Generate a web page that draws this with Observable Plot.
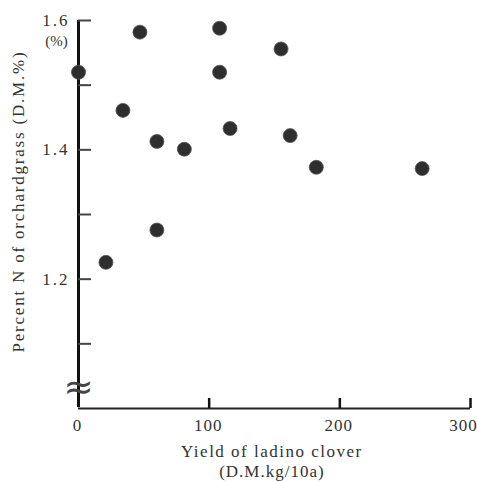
<!DOCTYPE html>
<html>
<head>
<meta charset="utf-8">
<script src="https://cdn.jsdelivr.net/npm/d3@7"></script>
<script src="https://cdn.jsdelivr.net/npm/@observablehq/plot@0.6"></script>
<style>
  html, body { margin: 0; padding: 0; background: #fff; }
  #chart svg { display: block; overflow: visible; }
</style>
</head>
<body>
<div id="chart"></div>
<script>
// Data
const yieldClover = [0, 21, 34, 47, 60, 60, 81, 108, 108, 116, 155, 162, 182, 263];
const percentN    = [1.52, 1.226, 1.461, 1.582, 1.413, 1.276, 1.401, 1.588, 1.52, 1.433, 1.556, 1.422, 1.373, 1.371];

const xTicks = [0, 100, 200, 300];
const xTickLabels = ["0", "100", "200", "300"];
const yTicks = [1.1, 1.2, 1.3, 1.4, 1.5, 1.6];
const yLabeled = [1.2, 1.4, 1.6];
const yTickLabels = ["1.2", "1.4", "1.6"];

const xTitle1 = "Yield of ladino clover";
const xTitle2 = "(D.M.kg/10a)";
const yTitle = "Percent N of orchardgrass (D.M.%)";
const yUnit = "(%)";

const points = yieldClover.map((x, i) => ({x, y: percentN[i]}));
const xLabelData = xTicks.map((x, i) => ({x, label: xTickLabels[i]}));
const serif = "Liberation Serif, DejaVu Serif, serif";

const chart = Plot.plot({
  width: 477,
  height: 482,
  marginLeft: 78,
  marginRight: 7,
  marginTop: 20,
  marginBottom: 74,
  style: {fontFamily: serif, background: "#fff", color: "#222"},
  x: {domain: [0, 300], axis: null},
  y: {domain: [1.0, 1.6], axis: null},
  marks: [
    // y axis line
    Plot.ruleX([0], {y1: 1.0, y2: 1.6, stroke: "#111", strokeWidth: 3, insetTop: -1}),
    // x axis line
    Plot.ruleY([1.0], {x1: 0, x2: 300, stroke: "#222", strokeWidth: 2}),
    // y ticks pointing inward
    Plot.ruleY(yTicks, {x1: 0, x2: 0, insetRight: -13, stroke: "#444", strokeWidth: 2}),
    // x ticks pointing up
    Plot.ruleX(xTicks.slice(1), {y1: 1.0, y2: 1.0, insetTop: -10, stroke: "#111", strokeWidth: 2.5}),
    // axis break symbol
    Plot.text(["≈"], {x: 0, y: 1.035, text: d => d, fontSize: 36, fill: "#444", fontFamily: "DejaVu Sans", dy: 2}),
    // y tick labels
    Plot.text(yLabeled, {x: 0, y: d => d, text: (d, i) => yTickLabels[i], textAnchor: "end", dx: -9, fontSize: 17, fill: "#333", className: "spaced2"}),
    Plot.text([yUnit], {x: 0, y: 1.6, text: d => d, dx: -22, dy: 21, fontSize: 15, fill: "#333"}),
    // x tick labels
    Plot.text(xLabelData.filter(d => d.x < 300), {x: "x", y: 1.0, text: "label", dy: 17, dx: -1, fontSize: 17, fill: "#333", className: "spaced1"}),
    Plot.text(xLabelData.filter(d => d.x >= 300), {x: "x", y: 1.0, text: "label", dy: 17, dx: -7, fontSize: 17, fill: "#333", className: "spaced1"}),
    // axis titles
    Plot.text([xTitle1], {x: 148, y: 1.0, text: d => d, dy: 43, fontSize: 17, fill: "#333", className: "spaced15"}),
    Plot.text([xTitle2], {x: 148, y: 1.0, text: d => d, dy: 63, fontSize: 17, fill: "#333", className: "spaced1"}),
    Plot.text([yTitle], {x: 0, y: 1.32, text: d => d, rotate: -90, dx: -60, fontSize: 17, fill: "#333", className: "spaced18"}),
    // data points
    Plot.dot(points, {x: "x", y: "y", r: 7, fill: "#2e2e2e", stroke: "#555", strokeWidth: 0.8})
  ]
});
const spacing = {spaced1: "1", spaced15: "1.5", spaced18: "1.8", spaced2: "2"};
for (const [cls, ls] of Object.entries(spacing)) {
  chart.querySelectorAll("." + cls + " text").forEach(t => t.setAttribute("letter-spacing", ls));
}
document.getElementById("chart").appendChild(chart);
</script>
</body>
</html>
